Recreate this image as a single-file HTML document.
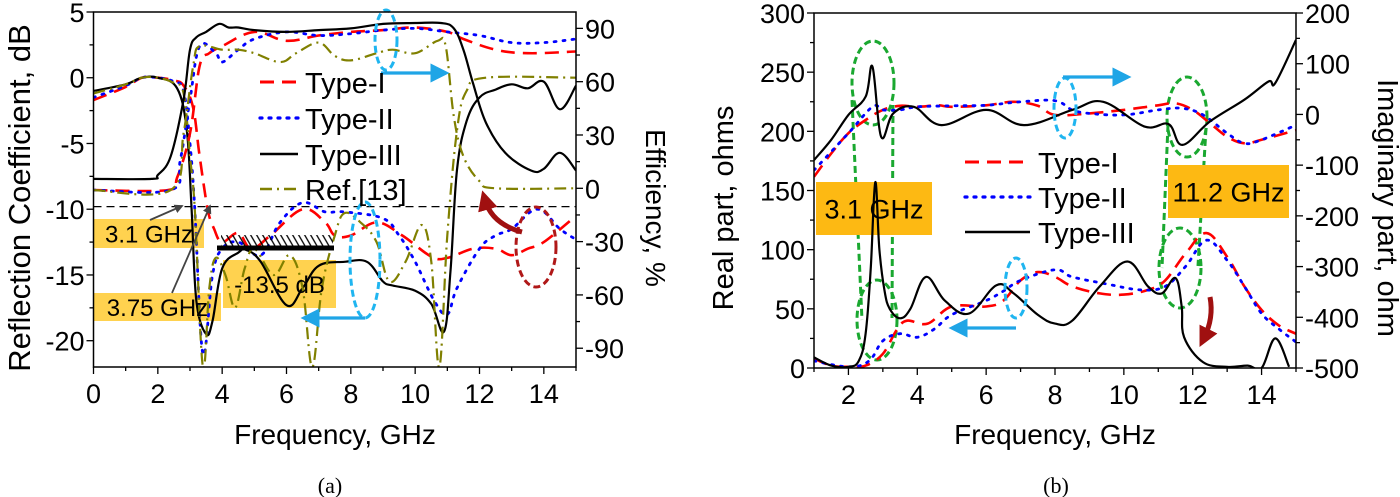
<!DOCTYPE html>
<html><head><meta charset="utf-8"><style>
html,body{margin:0;padding:0;background:#fff;}
svg{display:block;font-family:"Liberation Sans",Arial,sans-serif;}
</style></head><body>
<svg id="fig" width="1400" height="497" viewBox="0 0 1400 497" xmlns="http://www.w3.org/2000/svg">
<defs>
<clipPath id="clipA"><rect x="93.5" y="12" width="482.5" height="355"/></clipPath>
<clipPath id="clipB"><rect x="814" y="13" width="482" height="355"/></clipPath>
<marker id="arrBlue" markerWidth="6" markerHeight="6" refX="3" refY="3" orient="auto" markerUnits="strokeWidth"><path d="M0,0 L6,3 L0,6 Z" fill="#1fa5e6"/></marker>
<marker id="arrGray" markerWidth="5" markerHeight="5" refX="4" refY="2.5" orient="auto" markerUnits="strokeWidth"><path d="M0,0 L5,2.5 L0,5 Z" fill="#444"/></marker>
<marker id="arrRed" markerWidth="4" markerHeight="4" refX="2" refY="2" orient="auto" markerUnits="strokeWidth"><path d="M0,0 L4,2 L0,4 Z" fill="#a01010"/></marker>
<pattern id="hatch" width="6" height="12" patternUnits="userSpaceOnUse" patternTransform="skewX(30)"><line x1="1" y1="0" x2="1" y2="12" stroke="#000" stroke-width="1.5"/></pattern>
</defs>
<g id="chartA"></g>
<g id="chartB"></g>
<text x="330" y="493" font-family="Liberation Serif, serif" font-size="22" text-anchor="middle">(a)</text>
<text x="1056" y="493" font-family="Liberation Serif, serif" font-size="22" text-anchor="middle">(b)</text>
</svg>
<script>
// ---------- Chart (a) data ----------
const aXTicks = [0,2,4,6,8,10,12,14];
const aYTicks = [5,0,-5,-10,-15,-20];
const aEffTicks = [90,60,30,0,-30,-60,-90];
const s11Type1F = [0,1,1.5,2,2.5,2.8,3.1,3.3,3.55,3.75,4.0,4.5,4.9,5.5,6.5,7.2,7.5,8,8.8,9.6,10.5,11,11.8,12.5,13,13.5,14,15];
const s11Type1V = [-1.7,-0.7,0,0,-0.2,-0.6,-2.3,-6,-10,-11.5,-12.5,-11.8,-13,-12,-10,-11,-12,-12,-11,-12,-13.6,-13.7,-13,-13,-13.5,-13,-12.5,-10.5];
const s11Type2F = [0,1,1.5,2,2.5,2.8,3.0,3.15,3.4,3.7,4.0,4.5,5.2,5.8,6.5,7.2,7.8,9,9.5,10,10.6,11,11.3,12,12.5,13,13.8,14.5,15];
const s11Type2V = [-1.5,-0.6,0,0,-0.3,-1,-5,-10,-21,-15,-13,-12.5,-13.5,-11,-9.5,-10.2,-10.2,-10.7,-12,-14,-17,-18,-16,-13,-12,-11.5,-10,-11.5,-12.3];
const s11Type3F = [0,1,1.5,2,2.6,2.9,3.05,3.2,3.5,3.7,4.0,4.5,4.75,5.2,6,6.5,7,7.8,8.5,9,9.3,10,10.5,10.9,11.1,11.3,11.6,12,12.5,13,13.5,14,14.5,15];
const s11Type3V = [-1,-0.5,0,0,-0.8,-4,-10,-17,-19.5,-18.5,-14.5,-13.3,-13.1,-14,-17.3,-16,-14.3,-14,-14,-15.5,-15.8,-16.2,-17.2,-19.3,-14.6,-7,-3.3,-1.5,-0.9,-0.5,-0.8,-0.3,-2.4,-0.6];
const s11RefF = [0,1,1.5,2,2.5,2.8,3.0,3.15,3.4,3.6,3.8,4.1,4.4,4.7,5,5.6,6.1,6.5,6.8,7.1,7.5,7.8,8.3,8.8,9.2,9.7,10.2,10.5,10.75,11.0,11.3,11.6,12.2,15];
const s11RefV = [-1.2,-0.5,0,0,-0.4,-1.2,-6,-10,-22,-16,-13.7,-15,-17.5,-14.5,-13,-15,-13.5,-16,-22,-16,-12,-10.3,-11,-12.5,-15.5,-14,-11.2,-14,-22,-12,-4,-1,0,0];
const effType1F = [0,2.3,2.6,3.0,3.3,3.6,4,5,6,7,8,9,10,11,11.5,12.5,13.5,15];
const effType1V = [-1,-1,6,31,69,76,80,88,83,86,88,89,90.5,88,84,78,76,77];
const effType2F = [0,2.4,2.7,3.0,3.3,3.8,4.0,4.5,5,6,7,8,9,10,11,12,13,14,15];
const effType2V = [-1,-1,16,50,80,76,71,78,84,88,86,87,89,90,88,86,82,82,84];
const effType3F = [0,1.8,2.0,2.4,2.8,3.0,3.2,3.5,3.9,4.2,4.5,5,6,7,8,9,10,10.8,11.2,11.5,11.8,12.2,12.8,13.6,14,14.5,15];
const effType3V = [5.3,5.3,7.5,18,50,78,85,88,92.5,90.5,90.5,89,88,89,90,92.5,93,93,90,78,59,37,20,10,11,20,10];
const effRefF = [0,2.4,2.8,3.1,3.3,4,4.5,5,5.8,6.3,7,7.5,8,8.8,9.3,10,10.7,10.95,11.2,11.5,12,12.5,15];
const effRefV = [-1,-1,31,69,80,78,78,76,71,76,82,74.5,72,76,78,76,83,80,40.5,18,4,0,0];
const aLegend = ["Type-I","Type-II","Type-III","Ref.[13]"];

// ---------- Chart (b) data ----------
const bXTicks = [2,4,6,8,10,12,14];
const bYTicks = [0,50,100,150,200,250,300];
const bImTicks = [200,100,0,-100,-200,-300,-400,-500];
const imType3F = [1,1.5,2,2.5,2.7,2.95,3.3,3.9,4.7,6,7.1,8.5,9.4,10.6,11.3,11.7,12.5,13.5,14.2,14.4,15];
const imType3V = [-90,-50,-1,35,94,-44,2,15,-21,9,-21,9,25,-24,-19,-60,-14,29,65,62,147];
const imType1F = [1,1.5,2,2.5,3,3.5,4,4.6,5,6,6.8,7.5,8,9,10,11,11.5,12,12.5,13,13.5,14,15];
const imType1V = [-123,-77,-37,-11,9,17,15,18,15,18,25,17,-1,2,9,18,22,9,-17,-44,-57,-50,-31];
const imType2F = [1,2,2.7,3,3.5,4,5,6,7,8,8.5,9,10,11,11.7,12.3,13,13.5,14,15];
const imType2V = [-110,-37,15,9,9,15,17,18,25,27,9,2,-1,9,12,-1,-37,-57,-50,-21];
const reType3F = [1,1.5,2,2.3,2.5,2.65,2.78,2.9,3.05,3.2,3.5,3.8,4.25,4.8,5.5,6.3,6.8,7.5,8,8.5,9.3,10.1,10.7,11.1,11.5,11.68,11.75,12.3,13,13.6,14,14.4,14.8];
const reType3V = [9,2,1,6,29,85,157,100,65,50,42,50,77,57,46,70,63,45,37.5,40,69,90,69,63,76,52,26,5,1,2,0,25,1];
const reType1F = [1,1.5,2,2.5,3,3.4,3.7,4.3,5,6,6.5,7,7.5,8,8.5,9.3,10,10.7,11.2,11.8,12.4,13,13.5,14,14.5,15];
const reType1V = [8,2,1,2,12,32,40,37.5,52,52,57,74,81,77,69,63,62,66,74,97,114,94,69,49,36,29];
const reType2F = [1,2,2.6,3,3.5,4,4.5,5,6,6.5,7,8,8.5,9.5,10.5,11.2,11.8,12.4,13,13.5,14,14.5,15];
const reType2V = [6,1,6,23,29,26,33,45,57,65,74,83,77,71,66,69,86,108,91,69,46,33,22];
const bLegend = ["Type-I","Type-II","Type-III"];

const NS = "http://www.w3.org/2000/svg";
const TF = 27, TITLE = 28;
function mk(parent, tag, attrs){ const e=document.createElementNS(NS,tag); for(const k in attrs) e.setAttribute(k,attrs[k]); parent.appendChild(e); return e; }
function smooth(pts){
  let d = "M"+pts[0][0].toFixed(1)+","+pts[0][1].toFixed(1);
  for(let i=0;i<pts.length-1;i++){
    const p0=pts[Math.max(0,i-1)],p1=pts[i],p2=pts[i+1],p3=pts[Math.min(pts.length-1,i+2)];
    const t=0.18;
    const c1=[p1[0]+(p2[0]-p0[0])*t, p1[1]+(p2[1]-p0[1])*t];
    const c2=[p2[0]-(p3[0]-p1[0])*t, p2[1]-(p3[1]-p1[1])*t];
    d+=" C"+c1[0].toFixed(1)+","+c1[1].toFixed(1)+" "+c2[0].toFixed(1)+","+c2[1].toFixed(1)+" "+p2[0].toFixed(1)+","+p2[1].toFixed(1);
  }
  return d;
}
const styles = {
  t1:{stroke:"#ff0000",dash:"14,8",w:2.6},
  t2:{stroke:"#0000ff",dash:"2,7",w:2.8,cap:"round"},
  t3:{stroke:"#000000",dash:"",w:2.2},
  ref:{stroke:"#808000",dash:"12,5,2,5",w:2.2}
};
function curve(g, xs, ys, fx, fy, st, clip){
  const pts = xs.map((f,i)=>[fx(f), fy(ys[i])]);
  const p = mk(g,"path",{d:smooth(pts),fill:"none",stroke:st.stroke,"stroke-width":st.w,"clip-path":"url(#"+clip+")"});
  if(st.dash) p.setAttribute("stroke-dasharray",st.dash);
  if(st.cap) p.setAttribute("stroke-linecap",st.cap);
  return p;
}

// ===== Chart A =====
(function(){
  const g = document.getElementById("chartA");
  const L=93.5,R=576,T=12,B=367;
  const x = f => L + f*(R-L)/15;
  const y = d => T + (5-d)*(B-T)/27;
  const ye = e => 188.3 - e*1.777;
  const boxes=[[94,219,110,29,"3.1 GHz","box-3-1ghz"],[94,293,127,28,"3.75 GHz","box-3-75ghz"],[223,260,113,48,"-13.5 dB","box-13-5db"]];
  boxes.forEach(b=>{
    const r=mk(g,"rect",{x:b[0],y:b[1],width:b[2],height:b[3],fill:"rgba(255,195,20,0.75)"});
    
    
  });
  const th=mk(g,"line",{x1:L,x2:R,y1:y(-9.8),y2:y(-9.8),stroke:"#000","stroke-width":1.2,"stroke-dasharray":"8,5"});
  
  
  const ser=[[s11Type1F,s11Type1V,y,"t1","s11-type-i"],[s11Type2F,s11Type2V,y,"t2","s11-type-ii"],[s11Type3F,s11Type3V,y,"t3","s11-type-iii"],[s11RefF,s11RefV,y,"ref","s11-ref13"],
             [effType1F,effType1V,ye,"t1","eff-type-i"],[effType2F,effType2V,ye,"t2","eff-type-ii"],[effType3F,effType3V,ye,"t3","eff-type-iii"],[effRefF,effRefV,ye,"ref","eff-ref13"]];
  ser.forEach(s=>{
    const p=curve(g,s[0],s[1],x,s[2],styles[s[3]],"clipA");
    
    
  });
  const hb=mk(g,"rect",{x:221,y:235,width:112,height:12,fill:"url(#hatch)"});
  
  
  const lb=mk(g,"line",{x1:217,x2:334,y1:248,y2:248,stroke:"#000","stroke-width":5});
  
  
  boxes.forEach(b=>{
    const t=mk(g,"text",{x:b[0]+b[2]/2,y:b[1]+b[3]/2+9,"font-size":24,"text-anchor":"middle",fill:"#000"});
    t.textContent=b[4];
    
    
  });
  [[150,220,182,206],[172,293,210,206]].forEach((a,i)=>{
    const l=mk(g,"line",{x1:a[0],y1:a[1],x2:a[2],y2:a[3],stroke:"#444","stroke-width":1.8,"marker-end":"url(#arrGray)"});
    
    
  });
  [[386,40,11,30],[365,260,15,58]].forEach((e,i)=>{
    const el=mk(g,"ellipse",{cx:e[0],cy:e[1],rx:e[2],ry:e[3],fill:"none",stroke:"#1fb5f0","stroke-width":3,"stroke-dasharray":"7,4"});
    
    
  });
  [[381,73,440,73],[365,318,310,318]].forEach((a,i)=>{
    const l=mk(g,"line",{x1:a[0],y1:a[1],x2:a[2],y2:a[3],stroke:"#1fa5e6","stroke-width":3.2,"marker-end":"url(#arrBlue)"});
    
    
  });
  const re=mk(g,"ellipse",{cx:536,cy:247,rx:20,ry:40,fill:"none",stroke:"#b01818","stroke-width":3,"stroke-dasharray":"7,4"});
  
  
  const ra=mk(g,"path",{d:"M522,232 Q492,224 485,200",fill:"none",stroke:"#a01010","stroke-width":5,"marker-end":"url(#arrRed)"});
  
  
  const lk=["t1","t2","t3","ref"];
  aLegend.forEach((n,i)=>{
    const yy=[82,118,154,189][i];
    const st=styles[lk[i]];
    const l=mk(g,"line",{x1:260,x2:298,y1:yy,y2:yy,stroke:st.stroke,"stroke-width":st.w+0.4});
    if(st.dash) l.setAttribute("stroke-dasharray",st.dash);
    if(st.cap) l.setAttribute("stroke-linecap",st.cap);
    
    
    const t=mk(g,"text",{x:305,y:yy+11,"font-size":29,fill:"#000"});
    t.textContent=n;
    
    
  });
  const fr=mk(g,"rect",{x:L,y:T,width:R-L,height:B-T,fill:"none",stroke:"#000","stroke-width":1.5});
  
  
  for(let f=0;f<=15;f++){
    const maj=f%2===0;
    const tk=mk(g,"line",{x1:x(f),x2:x(f),y1:B,y2:B+(maj?7:4),stroke:"#000","stroke-width":1.3});
     
  }
  aXTicks.forEach(v=>{
    const t=mk(g,"text",{x:x(v),y:B+36,"font-size":TF,"text-anchor":"middle"});
    t.textContent=v;
    
    
  });
  for(let d=5;d>=-22;d-=2.5){
    const maj=Math.abs(d%5)<0.01;
    const tk=mk(g,"line",{x1:L,x2:L-(maj?7:4),y1:y(d),y2:y(d),stroke:"#000","stroke-width":1.3});
     
  }
  aYTicks.forEach(v=>{
    const t=mk(g,"text",{x:L-9,y:y(v)+10,"font-size":TF,"text-anchor":"end"});
    t.textContent=v;
    
    
  });
  for(let e=90;e>=-90;e-=15){
    const maj=e%30===0;
    const tk=mk(g,"line",{x1:R,x2:R+(maj?7:4),y1:ye(e),y2:ye(e),stroke:"#000","stroke-width":1.3});
     
  }
  aEffTicks.forEach(v=>{
    const t=mk(g,"text",{x:R+9,y:ye(v)+10,"font-size":TF,"text-anchor":"start"});
    t.textContent=v;
    
    
  });
  const xt=mk(g,"text",{x:335,y:444,"font-size":TITLE,"text-anchor":"middle"}); xt.textContent="Frequency, GHz";
   
  const yt=mk(g,"text",{x:0,y:0,"font-size":31,"text-anchor":"middle",transform:"translate(30,198) rotate(-90)"}); yt.textContent="Reflection Coefficient, dB";
   
  const y2t=mk(g,"text",{x:0,y:0,"font-size":TITLE,"text-anchor":"middle",transform:"translate(646,208) rotate(90)"}); y2t.textContent="Efficiency, %";
   
})();

// ===== Chart B =====
(function(){
  const g = document.getElementById("chartB");
  const L=814,R=1296,T=13,B=368;
  const x = f => L + (f-1)*(R-L)/14;
  const yr = v => B - v*(B-T)/300;
  const yi = v => B - (v+500)*(B-T)/700;
  const gs={fill:"none",stroke:"#1aa830","stroke-width":3,"stroke-dasharray":"7,4"};
  [[852,100,862,320],[893,105,892,318],[1168,125,1162,268],[1206,128,1198,266]].forEach((a,i)=>{
    const l=mk(g,"line",Object.assign({x1:a[0],y1:a[1],x2:a[2],y2:a[3]},gs));
     
  });
  [[873,83,21,42],[877,320,20,40],[1187,117,20,40],[1180,268,21,40]].forEach((e,i)=>{
    const el=mk(g,"ellipse",Object.assign({cx:e[0],cy:e[1],rx:e[2],ry:e[3]},gs));
     
  });
  [[816,182,116,53,"3.1 GHz","box-3-1ghz-b"],[1168,165,121,53,"11.2 GHz","box-11-2ghz"]].forEach(b=>{
    const r=mk(g,"rect",{x:b[0],y:b[1],width:b[2],height:b[3],fill:"#fdb913"});
     
    const t=mk(g,"text",{x:b[0]+b[2]/2,y:b[1]+b[3]/2+10,"font-size":27,"text-anchor":"middle"});
    t.textContent=b[4];
     
  });
  const ser=[[imType1F,imType1V,yi,"t1","imag-type-i"],[imType2F,imType2V,yi,"t2","imag-type-ii"],[imType3F,imType3V,yi,"t3","imag-type-iii"],
             [reType1F,reType1V,yr,"t1","real-type-i"],[reType2F,reType2V,yr,"t2","real-type-ii"],[reType3F,reType3V,yr,"t3","real-type-iii"]];
  ser.forEach(s=>{
    const p=curve(g,s[0],s[1],x,s[2],styles[s[3]],"clipB");
     
  });
  [[1065,108,11,30],[1016,288,11,30]].forEach((e,i)=>{
    const el=mk(g,"ellipse",{cx:e[0],cy:e[1],rx:e[2],ry:e[3],fill:"none",stroke:"#1fb5f0","stroke-width":3,"stroke-dasharray":"7,4"});
     
  });
  [[1063,77,1122,77],[1016,328,958,328]].forEach((a,i)=>{
    const l=mk(g,"line",{x1:a[0],y1:a[1],x2:a[2],y2:a[3],stroke:"#1fa5e6","stroke-width":3.2,"marker-end":"url(#arrBlue)"});
     
  });
  const ra=mk(g,"path",{d:"M1210,297 Q1214,318 1204,338",fill:"none",stroke:"#a01010","stroke-width":5,"marker-end":"url(#arrRed)"});
   
  const lk=["t1","t2","t3"];
  bLegend.forEach((n,i)=>{
    const yy=[162,197,232][i];
    const st=styles[lk[i]];
    const l=mk(g,"line",{x1:965,x2:1030,y1:yy,y2:yy,stroke:st.stroke,"stroke-width":st.w+0.4});
    if(st.dash) l.setAttribute("stroke-dasharray",st.dash);
    if(st.cap) l.setAttribute("stroke-linecap",st.cap);
     
    const t=mk(g,"text",{x:1038,y:yy+11,"font-size":29}); t.textContent=n;
     
  });
  const fr=mk(g,"rect",{x:L,y:T,width:R-L,height:B-T,fill:"none",stroke:"#000","stroke-width":1.5});
   
  for(let f=1;f<=15;f++){
    const maj=f%2===0;
    const tk=mk(g,"line",{x1:x(f),x2:x(f),y1:B,y2:B+(maj?7:4),stroke:"#000","stroke-width":1.3});
     
  }
  bXTicks.forEach(v=>{
    const t=mk(g,"text",{x:x(v),y:B+36,"font-size":TF,"text-anchor":"middle"}); t.textContent=v;
     
  });
  for(let v=0;v<=300;v+=25){
    const maj=v%50===0;
    const tk=mk(g,"line",{x1:L,x2:L-(maj?7:4),y1:yr(v),y2:yr(v),stroke:"#000","stroke-width":1.3});
     
  }
  bYTicks.forEach(v=>{
    const t=mk(g,"text",{x:L-9,y:yr(v)+10,"font-size":TF,"text-anchor":"end"}); t.textContent=v;
     
  });
  for(let v=-500;v<=200;v+=50){
    const maj=v%100===0;
    const tk=mk(g,"line",{x1:R,x2:R+(maj?7:4),y1:yi(v),y2:yi(v),stroke:"#000","stroke-width":1.3});
     
  }
  bImTicks.forEach(v=>{
    const t=mk(g,"text",{x:R+9,y:yi(v)+10,"font-size":TF,"text-anchor":"start"}); t.textContent=v;
     
  });
  const xt=mk(g,"text",{x:1055,y:444,"font-size":TITLE,"text-anchor":"middle"}); xt.textContent="Frequency, GHz";
   
  const yt=mk(g,"text",{x:0,y:0,"font-size":29,"text-anchor":"middle",transform:"translate(733,208) rotate(-90)"}); yt.textContent="Real part, ohms";
   
  const y2t=mk(g,"text",{x:0,y:0,"font-size":29,"text-anchor":"middle",transform:"translate(1378,208) rotate(90)"}); y2t.textContent="Imaginary part, ohm";
   
})();
</script>
</body></html>
